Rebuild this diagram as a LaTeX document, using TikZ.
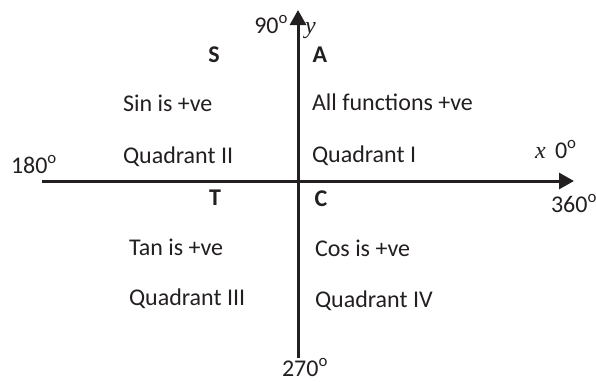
\documentclass[tikz,border=0pt]{standalone}
\usepackage{fontspec}
\setmainfont{Carlito}
\newfontfamily\varfont{Liberation Serif}
\usetikzlibrary{arrows.meta}
\definecolor{ink}{HTML}{231F20}
\begin{document}
\begin{tikzpicture}[x=1pt,y=-1pt,
  lbl/.style={inner sep=0pt,outer sep=0pt,text=ink,font=\fontsize{24}{28}\selectfont,anchor=base west},
  quad/.style={inner sep=0pt,outer sep=0pt,text=ink,font=\fontsize{24}{28}\selectfont\bfseries,anchor=base},
  var/.style={inner sep=0pt,outer sep=0pt,text=ink,font=\fontsize{24}{28}\selectfont\varfont\itshape,anchor=base west},
  axis/.style={line width=3pt,draw=ink,-{Triangle[length=15pt,width=16pt]}}]
\useasboundingbox (0,0) rectangle (596,381);
\coordinate (xl) at (42,181);
\coordinate (xr) at (574,181);
\coordinate (yb) at (298,358);
\coordinate (yt) at (298,10);
\draw[axis] (xl) -- (xr);
\draw[axis] (yb) -- (yt);
% angle labels
\node[lbl,anchor=base east] (d90) at (288,33) {90\textsuperscript{o}};
\node[var] (yv) at (305,33) {y};
\node[lbl] (d180) at (11,173) {180\textsuperscript{o}};
\node[var] (xv) at (535,158) {x};
\node[lbl] (d0) at (555,158) {0\textsuperscript{o}};
\node[lbl] (d360) at (551,212) {360\textsuperscript{o}};
\node[lbl,anchor=base] (d270) at (305,376) {270\textsuperscript{o}};
% quadrant letters
\node[quad] (S) at (214,62) {S};
\node[quad] (A) at (320,62) {A};
\node[quad] (T) at (215,205) {T};
\node[quad] (C) at (321,206) {C};
% quadrant texts
\node[lbl] (q2a) at (123,111) {Sin is +ve};
\node[lbl] (q2b) at (123,163) {Quadrant II};
\node[lbl] (q1a) at (312,110) {All functions +ve};
\node[lbl] (q1b) at (312,162) {Quadrant I};
\node[lbl] (q3a) at (129,255) {Tan is +ve};
\node[lbl] (q3b) at (129,305) {Quadrant III};
\node[lbl] (q4a) at (315,256) {Cos is +ve};
\node[lbl] (q4b) at (315,307) {Quadrant IV};
\end{tikzpicture}
\end{document}
